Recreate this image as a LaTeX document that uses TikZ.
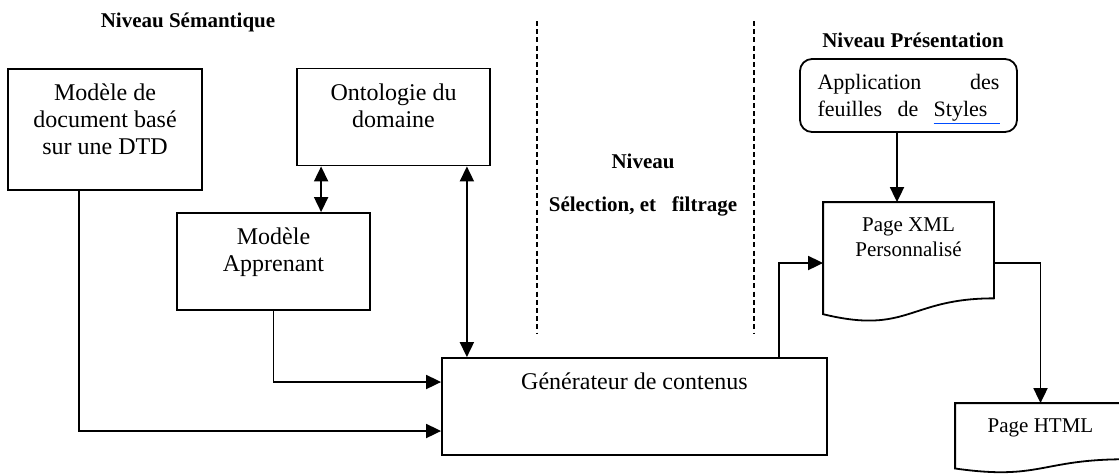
\documentclass[tikz,border=0pt]{standalone}
\usepackage{fontspec}
\setmainfont{Liberation Serif}
\usetikzlibrary{arrows.meta,positioning,calc}

\begin{document}
\begin{tikzpicture}[x=0.5pt, y=-0.5pt, line width=0.9pt, >={Triangle[length=7.5pt,width=7pt]},
        box/.style = {draw, minimum width=96.5pt, minimum height=48.5pt, inner sep=0pt},
        txt/.style = {align=center, inner sep=0pt, font=\fontsize{12pt}{13.5pt}\selectfont},
        small/.style = {align=center, inner sep=0pt, font=\fontsize{10.5pt}{12.5pt}\selectfont},
        title/.style = {inner sep=0pt, font=\bfseries\fontsize{10.5pt}{12.5pt}\selectfont},
        sep/.style = {line width=0.6pt, dash pattern=on 2.5pt off 1.6pt}]
        \useasboundingbox (0,0) rectangle (1119,473);
        \clip (0,0) rectangle (1119,473);
        \node[title] (sem)  at (188,22)  {Niveau Sémantique};
        \node[title] (pres) at (913,40)  {Niveau Présentation};
        \node[title] (sel1) at (643,161) {Niveau};
        \node[title] (sel2) at (643,206) {Sélection, et\ \ \ filtrage};
        \foreach \x in {537,754}
                \draw[sep] (\x,21) -- (\x,333);

        \node[box, minimum width=97pt, minimum height=60.5pt] (dtd) at (105,129.5) {};
        \node[box] (onto) at (393.5,117) {};
        \node[box] (app)  at (273.5,261.5) {};
        \node[box, minimum width=192.5pt] (gen) at (634.5,406.5) {};
        \node[box, rounded corners=6pt, minimum width=108.5pt, minimum height=36.5pt] (css) at (908.5,95.5) {};
        \node[minimum width=84.5pt, minimum height=60pt, inner sep=0pt] (xml)  at (908.5,263) {};
        \node[minimum width=84.5pt, minimum height=35pt, inner sep=0pt] (html) at (1040.5,439) {};
        \foreach \n/\h in {xml/120, html/70}
                \draw (\n.north west) -- (\n.north east) -- ($(\n.north east)+(0,0.802*\h)$)
                        .. controls ($(\n.north)+(0,0.802*\h)$) and ($(\n.north)+(0,1.1075*\h)$) .. ($(\n.north west)+(0,0.934*\h)$) -- cycle;

        \node[txt, below=7.5pt of dtd.north]  (dtd-t)  {Modèle de\\document basé\\sur une DTD};
        \node[txt, below=7.5pt of onto.north] (onto-t) {Ontologie du\\domaine};
        \node[txt, below=7.5pt of app.north]  (app-t)  {Modèle\\Apprenant};
        \node[txt, below=7.5pt of gen.north]  (gen-t)  {Générateur de contenus};
        \node[small, below=7.5pt of xml.north]  (xml-t)  {Page XML\\Personnalisé};
        \node[small, below=7.5pt of html.north] (html-t) {Page HTML};
        \node[txt, font=\fontsize{11pt}{13.5pt}\selectfont, below=7.5pt of css.north] (css-t)
                {\makebox[91pt][s]{Application\hfill des}\\
                 \makebox[91pt][s]{feuilles\hfill de\hfill{\color{blue!70!cyan}\underline{\textcolor{black}{Styles}\hspace{6pt}}}}};

        \coordinate (oa) at ($(onto.south west)+(25,0)$);
        \coordinate (og) at ($(onto.south east)+(-24,0)$);
        \coordinate (gx) at ($(gen.north east)+(-49,0)$);
        \coordinate (cx) at ($(css.south)+(-11.5,0)$);
        \draw[->]  ([xshift=36pt]dtd.south west) |- ([yshift=-12.25pt]gen.west);
        \draw[->]  (app.south) |- ([yshift=12.25pt]gen.west);
        \draw[<->] (oa) -- (oa |- app.north);
        \draw[<->] (og) -- (og |- gen.north);
        \draw[->]  (gx) |- (xml.west);
        \draw[->]  (cx) -- (cx |- xml.north);
        \draw[->]  (xml.east) -| (html.north);
\end{tikzpicture}
\end{document}
